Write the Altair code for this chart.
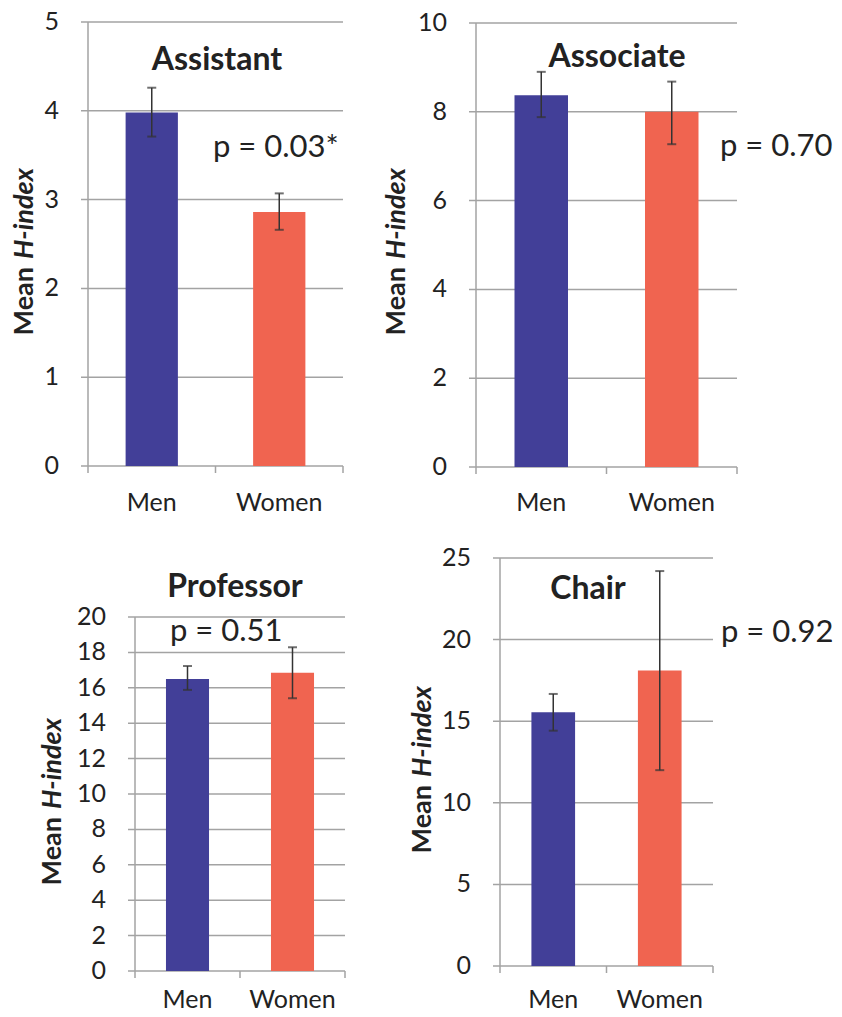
import altair as alt
import pandas as pd

groups = ["Men", "Women"]
panel_names = ["Assistant", "Associate", "Professor", "Chair"]
mean_vals = [[3.98, 2.86], [8.37, 8.00], [16.50, 16.85], [15.55, 18.10]]
upper_vals = [[4.26, 3.07], [8.90, 8.68], [17.23, 18.29], [16.67, 24.20]]
lower_vals = [[3.71, 2.66], [7.88, 7.27], [15.88, 15.41], [14.42, 12.00]]
y_max = [5, 10, 20, 25]
y_step = [1, 2, 2, 5]
p_labels = ["p = 0.03*", "p = 0.70", "p = 0.51", "p = 0.92"]
y_title_parts = ["Mean", "H-index"]
bar_colors = ["#423f98", "#f06450"]

FONT = "Lato"
GRID = "#a3a3a3"
INK = "#222222"
ERR = "#333333"
W, H = 826, 1001

# panel frames (chart pixels): plot left, right, top, bottom
frames = [
    (80, 335, 14, 458),
    (468, 729, 15, 459),
    (127, 337, 609, 963),
    (492, 705, 550, 958),
]
# annotation anchors (chart pixels)
title_xy = [(209, 52), (609, 49), (227, 579), (580, 581)]
p_xy = [(205, 140), (712, 139), (162, 624), (713, 625)]
ytitle_xy = [(17, 255), (389, 255), (45, 805), (415, 773)]
xlabel_y = [495, 495, 992, 992]


def one(value):
    return pd.DataFrame({"t": [value]})


layers = []
for i in range(4):
    left, right, top, bottom = frames[i]
    ys = alt.Scale(domain=[0, y_max[i]], range=[bottom, top], nice=False, zero=False)
    xs = alt.Scale(domain=groups, range=[left, right], paddingInner=0, paddingOuter=0)
    ticks = list(range(0, y_max[i] + 1, y_step[i]))
    tick_df = pd.DataFrame({"v": ticks, "lab": [str(t) for t in ticks]})
    bound_df = pd.DataFrame({"b": list(range(len(groups) + 1))})
    df = pd.DataFrame({"group": groups, "mean": mean_vals[i],
                       "hi": upper_vals[i], "lo": lower_vals[i]})

    # gridlines + y ticks
    layers.append(alt.Chart(tick_df).mark_rule(color=GRID, strokeWidth=1.5).encode(
        y=alt.Y("v:Q", scale=ys, axis=None), x=alt.value(left - 7), x2=alt.value(right)))
    # y tick labels
    layers.append(alt.Chart(tick_df).mark_text(
        font=FONT, fontSize=25, color=INK, align="right", baseline="middle").encode(
        y=alt.Y("v:Q", scale=ys, axis=None), x=alt.value(left - 29), text="lab:N"))
    # y axis line
    layers.append(alt.Chart(one(0)).mark_rule(color=GRID, strokeWidth=1.5).encode(
        x=alt.value(left), y=alt.value(top), y2=alt.value(bottom)))
    # x axis ticks at category boundaries
    layers.append(alt.Chart(bound_df).mark_rule(color=GRID, strokeWidth=1.5).encode(
        x=alt.X("b:Q", scale=alt.Scale(domain=[0, len(groups)], range=[left, right]), axis=None),
        y=alt.value(bottom), y2=alt.value(bottom + 7)))
    # bars
    layers.append(alt.Chart(df).mark_bar(width=alt.RelativeBandSize(0.41)).encode(
        x=alt.X("group:N", sort=groups, scale=xs, axis=None),
        y=alt.Y("mean:Q", scale=ys, axis=None),
        color=alt.Color("group:N", scale=alt.Scale(domain=groups, range=bar_colors), legend=None)))
    # error bars
    layers.append(alt.Chart(df).mark_rule(color=ERR, strokeWidth=1.5).encode(
        x=alt.X("group:N", sort=groups, scale=xs, axis=None),
        y=alt.Y("lo:Q", scale=ys, axis=None), y2="hi:Q"))
    for fld in ["hi", "lo"]:
        layers.append(alt.Chart(df).mark_tick(color=ERR, thickness=2, size=9,
                                              orient="horizontal").encode(
            x=alt.X("group:N", sort=groups, scale=xs, axis=None),
            y=alt.Y(f"{fld}:Q", scale=ys, axis=None)))
    # x labels
    layers.append(alt.Chart(df).mark_text(
        font=FONT, fontSize=25, color=INK, align="center", baseline="middle").encode(
        x=alt.X("group:N", sort=groups, scale=xs, axis=None),
        y=alt.value(xlabel_y[i]), text="group:N"))
    # panel title
    layers.append(alt.Chart(one(panel_names[i])).mark_text(
        font=FONT, fontSize=32, fontWeight="bold", color=INK, align="center",
        baseline="middle").encode(
        text="t:N", x=alt.value(title_xy[i][0]), y=alt.value(title_xy[i][1])))
    # p value
    layers.append(alt.Chart(one(p_labels[i])).mark_text(
        font=FONT, fontSize=31, color=INK, align="left", baseline="middle").encode(
        text="t:N", x=alt.value(p_xy[i][0]), y=alt.value(p_xy[i][1])))
    # y title: "Mean" + italic "H-index"
    layers.append(alt.Chart(one(y_title_parts[0])).mark_text(
        font=FONT, fontSize=27, fontWeight="bold", color=INK, angle=270,
        align="right", baseline="middle").encode(
        text="t:N", x=alt.value(ytitle_xy[i][0]), y=alt.value(ytitle_xy[i][1] + 4)))
    layers.append(alt.Chart(one(y_title_parts[1])).mark_text(
        font=FONT, fontSize=27, fontWeight="bold", fontStyle="italic", color=INK, angle=270,
        align="left", baseline="middle").encode(
        text="t:N", x=alt.value(ytitle_xy[i][0]), y=alt.value(ytitle_xy[i][1] - 4)))

chart = alt.layer(*layers).resolve_scale(
    x="independent", y="independent"
).properties(
    width=W, height=H, padding=0, background="white",
    autosize=alt.AutoSizeParams(type="none")
).configure_view(stroke=None)

chart.save("out.html", embed_options={"renderer": "svg", "actions": False})
